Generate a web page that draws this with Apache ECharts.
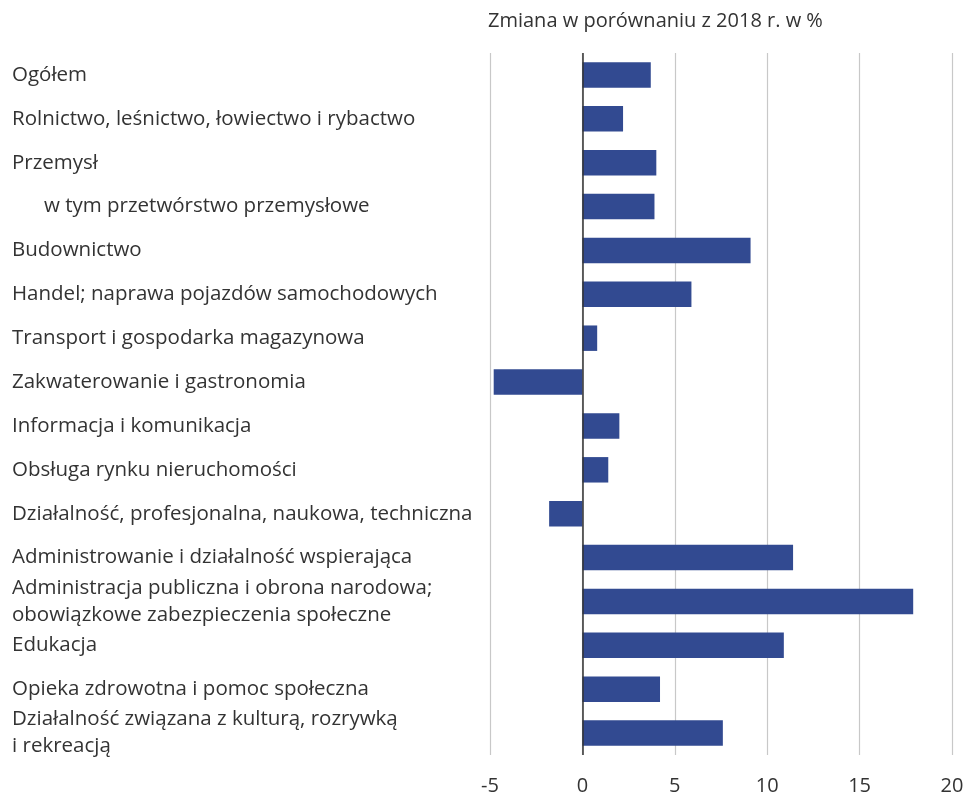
<!DOCTYPE html>
<html>
<head>
<meta charset="utf-8">
<script src="https://cdn.jsdelivr.net/npm/echarts@6/dist/echarts.min.js"></script>
<style>
  html, body { margin: 0; padding: 0; background: #fff; }
  #chart { width: 971px; height: 796px; }
</style>
</head>
<body>
<div id="chart"></div>
<script>
  // kategorie (od góry)
  const categories = [
    'Ogółem',
    'Rolnictwo, leśnictwo, łowiectwo i rybactwo',
    'Przemysł',
    '      w tym przetwórstwo przemysłowe',
    'Budownictwo',
    'Handel; naprawa pojazdów samochodowych',
    'Transport i gospodarka magazynowa',
    'Zakwaterowanie i gastronomia',
    'Informacja i komunikacja',
    'Obsługa rynku nieruchomości',
    'Działalność, profesjonalna, naukowa, techniczna',
    'Administrowanie i działalność wspierająca',
    'Administracja publiczna i obrona narodowa;\nobowiązkowe zabezpieczenia społeczne',
    'Edukacja',
    'Opieka zdrowotna i pomoc społeczna',
    'Działalność związana z kulturą, rozrywką\ni rekreacją'
  ];
  // zmiana w % wzgledem 2018
  const values = [3.7, 2.2, 4.0, 3.9, 9.1, 5.9, 0.8, -4.8, 2.0, 1.4, -1.8, 11.4, 17.9, 10.9, 4.2, 7.6];
  const xMin = -5;
  const xMax = 20;
  const xStep = 5;

  const font = '"Open Sans", "Noto Sans", sans-serif';
  const chart = echarts.init(document.getElementById('chart'));
  chart.setOption({
    animation: false,
    title: {
      text: 'Zmiana w porównaniu z 2018 r. w %',
      left: 483,
      top: 6,
      textStyle: { fontFamily: font, fontSize: 20, fontWeight: 'normal', color: '#333' }
    },
    grid: { left: 490, right: 19, top: 53, bottom: 41 },
    xAxis: {
      type: 'value',
      min: xMin,
      max: xMax,
      interval: xStep,
      axisLine: { show: false },
      axisTick: { show: false },
      axisLabel: { margin: 21, fontFamily: font, fontSize: 20, color: '#333' },
      splitLine: { lineStyle: { color: '#c8c8c8', width: 1.2 } }
    },
    yAxis: {
      type: 'category',
      data: categories,
      inverse: true,
      axisLine: { show: false },
      axisTick: { show: false },
      axisLabel: {
        align: 'left',
        margin: 478,
        fontFamily: font,
        fontSize: 20.5,
        lineHeight: 27,
        color: '#333'
      }
    },
    series: [{
      type: 'bar',
      data: values,
      barCategoryGap: '42%',
      itemStyle: { color: '#324a91' },
      markLine: {
        silent: true,
        symbol: 'none',
        label: { show: false },
        lineStyle: { color: '#333', width: 1.5, type: 'solid' },
        data: [{ xAxis: 0 }]
      }
    }]
  });
</script>
</body>
</html>
